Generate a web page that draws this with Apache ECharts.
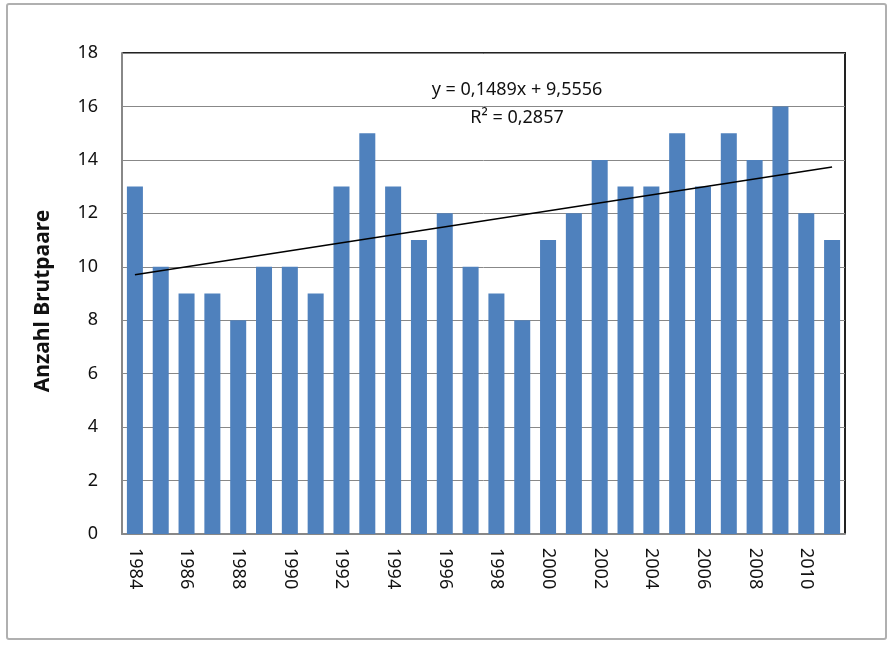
<!DOCTYPE html>
<html>
<head>
<meta charset="utf-8">
<script src="https://cdn.jsdelivr.net/npm/echarts@6/dist/echarts.min.js"></script>
<style>
  html, body { margin: 0; padding: 0; background: #fff; }
  #main { width: 891px; height: 646px; }
</style>
</head>
<body>
<div id="main"></div>
<script>
var years = ['1984', '1985', '1986', '1987', '1988', '1989', '1990', '1991', '1992', '1993',
  '1994', '1995', '1996', '1997', '1998', '1999', '2000', '2001', '2002', '2003',
  '2004', '2005', '2006', '2007', '2008', '2009', '2010', '2011'];
var pairs = [13, 10, 9, 9, 8, 10, 10, 9, 13, 15, 13, 11, 12, 10, 9, 8, 11, 12, 14, 13,
  13, 15, 13, 15, 14, 16, 12, 11];
// linear trend, value at first and last year
var trendEnds = [9.70, 13.73];
var trendText = ['y = 0,1489x + 9,5556', 'R² = 0,2857'];
var yTitle = 'Anzahl Brutpaare';

var myChart = echarts.init(document.getElementById('main'));
var font = 'Noto Sans';

var option = {
  animation: false,
  grid: { left: 122, right: 46, top: 53, bottom: 112 },
  graphic: [
    {
      type: 'rect',
      shape: { x: 7, y: 4, width: 879, height: 635, r: 2 },
      style: { fill: 'none', stroke: '#b0b0b0', lineWidth: 2 }
    },
    {
      type: 'text',
      style: { text: trendText[0], x: 517, y: 90, align: 'center', verticalAlign: 'middle',
        font: '18px "' + font + '"', fill: '#111' }
    },
    {
      type: 'text',
      style: { text: trendText[1], x: 517, y: 118, align: 'center', verticalAlign: 'middle',
        font: '18px "' + font + '"', fill: '#111' }
    },
    {
      type: 'text',
      x: 43, y: 301, rotation: Math.PI / 2,
      style: { text: yTitle, align: 'center', verticalAlign: 'middle',
        font: 'bold 21px "' + font + '"', fill: '#111' }
    }
  ],
  xAxis: {
    type: 'category',
    data: years,
    axisLine: { lineStyle: { color: '#888', width: 2 } },
    axisTick: { show: false },
    axisLabel: {
      interval: 1, rotate: -90, margin: 14,
      color: '#111', fontSize: 18, fontFamily: font
    }
  },
  yAxis: {
    type: 'value',
    min: 0, max: 18, interval: 2,
    axisLine: { show: true, lineStyle: { color: '#888', width: 2 } },
    axisTick: { show: false },
    splitLine: { lineStyle: { color: '#888', width: 1 } },
    axisLabel: { margin: 24, color: '#111', fontSize: 18, fontFamily: font }
  },
  series: [
    {
      type: 'bar',
      data: pairs,
      barCategoryGap: '38%',
      itemStyle: { color: '#4f81bd' },
      markLine: {
        silent: true,
        symbol: 'none',
        label: { show: false },
        lineStyle: { color: '#000', width: 1.5, type: 'solid' },
        data: [[
          { coord: [years[0], trendEnds[0]] },
          { coord: [years[years.length - 1], trendEnds[1]] }
        ]]
      }
    }
  ]
};

option && myChart.setOption(option);

// black frame on top and right of plot area
var g = myChart.getModel().getComponent('grid').coordinateSystem.getRect();
myChart.setOption({
  graphic: option.graphic.concat([{
    type: 'polyline',
    shape: { points: [[g.x, g.y], [g.x + g.width, g.y], [g.x + g.width, g.y + g.height]] },
    style: { stroke: '#222', lineWidth: 2, fill: 'none' }
  }])
});
</script>
</body>
</html>
